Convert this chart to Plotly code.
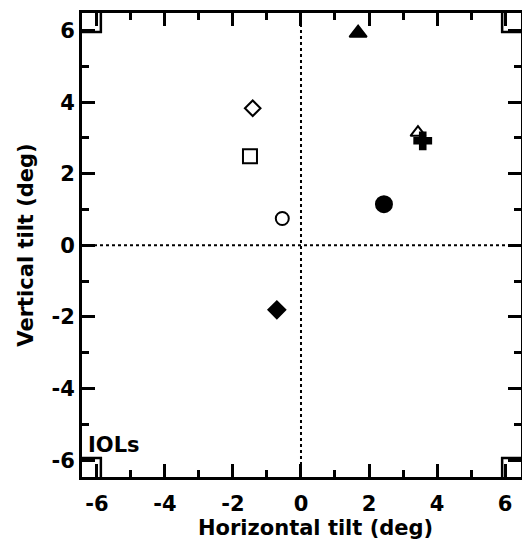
import plotly.graph_objects as go

# Data
labels = ["filled triangle", "open diamond", "open square", "open circle",
          "filled circle", "open triangle", "plus", "filled diamond"]
h_tilt = [1.68, -1.42, -1.50, -0.55, 2.44, 3.44, 3.58, -0.71]
v_tilt = [5.93, 3.83, 2.49, 0.75, 1.15, 3.15, 2.92, -1.80]
symbols = ["triangle-up", "diamond-open", "square-open", "circle-open",
           "circle", "triangle-up-open", "cross", "diamond"]
sizes = [15, 12, 14, 13, 16, 13, 14, 13]

corner_x = [-6.40, 6.43, -6.40, 6.43]
corner_y = [6.45, 6.45, -6.43, -6.43]

tick_vals = [-6, -4, -2, 0, 2, 4, 6]
tick_text = ["-6", "-4", "-2", "0", "2", "4", "6"]
x_range = [-6.44, 6.47]
y_range = [-6.47, 6.49]

fig = go.Figure()

for lab, x, y, s, sz in zip(labels, h_tilt, v_tilt, symbols, sizes):
    fig.add_trace(go.Scatter(
        x=[x], y=[y], mode="markers", name=lab,
        marker=dict(symbol=s, size=sz, color="black",
                    line=dict(width=2, color="black")),
        showlegend=False))

fig.add_trace(go.Scatter(
    x=corner_x, y=corner_y, mode="markers", name="corners",
    marker=dict(symbol="square-open", size=35, color="black",
                line=dict(width=2.5, color="black")),
    showlegend=False, hoverinfo="skip", cliponaxis=True))

fig.add_hline(y=0, line=dict(color="black", width=2, dash="dot"))
fig.add_vline(x=0, line=dict(color="black", width=2, dash="dot"))

font_main = dict(family="DejaVu Sans", size=21, color="black", weight="bold")

axis_common = dict(
    tickvals=tick_vals, ticktext=tick_text, automargin=False,
    showgrid=False, zeroline=False, showline=True, linecolor="black",
    linewidth=3, mirror="ticks", ticks="inside", ticklen=13, tickwidth=3,
    tickcolor="black", tickfont=font_main,
    minor=dict(dtick=1, ticks="inside", ticklen=7, tickwidth=3,
               tickcolor="black", showgrid=False),
)

fig.update_xaxes(**axis_common, range=x_range, ticklabelstandoff=6)
fig.update_yaxes(**axis_common, range=y_range,
                 title=dict(text="Vertical tilt (deg)", font=font_main, standoff=13))

fig.add_annotation(text="Horizontal tilt (deg)", xref="paper", yref="paper",
                   x=0.533, y=0, yshift=-51, xanchor="center", yanchor="middle",
                   showarrow=False, font=font_main)

fig.add_annotation(text="IOLs", xref="paper", yref="paper", x=0.008, y=0.07,
                   xanchor="left", yanchor="middle", showarrow=False, font=font_main)

fig.update_layout(
    width=522, height=544,
    margin=dict(l=82, r=1, t=13, b=67),
    plot_bgcolor="white", paper_bgcolor="white",
    showlegend=False,
)

fig.write_html("out.html", config={"displayModeBar": False},
               post_script="document.body.style.margin='0';document.body.style.overflow='hidden';")
